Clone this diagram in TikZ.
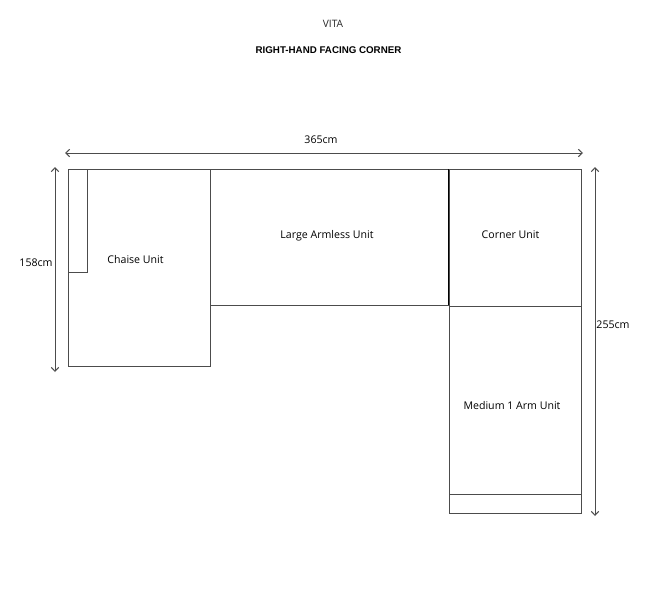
\documentclass[tikz,border=0pt]{standalone}
\usepackage{fontspec}
\setmainfont{Open Sans}
\newfontfamily\headfont{Liberation Sans}
\usetikzlibrary{arrows.meta}
\definecolor{planline}{gray}{0.3}
\tikzset{
unit/.style={draw=planline, line width=1pt, inner sep=0pt, outer sep=0pt},
unitlabel/.style={inner sep=0pt, text=black, font=\fontsize{10.6}{12}\selectfont},
dimline/.style={draw=planline, line width=1pt, {Straight Barb[length=4pt,width=7.5pt]}-{Straight Barb[length=4pt,width=7.5pt]}}
}
\begin{document}
\begin{tikzpicture}[x=1pt,y=-1pt]
\useasboundingbox (0,0) rectangle (650,600);
\fill[white] (0,0) rectangle (650,600);

\node[inner sep=0pt, text=black!85, font=\fontsize{10.2}{12}\selectfont] (range) at (333,23.5) {VITA};
\node[inner sep=0pt, font=\headfont\bfseries\fontsize{9.75}{11}\selectfont] (facing) at (328.5,50.5) {RIGHT-HAND FACING CORNER};

\node[unit, minimum width=142pt, minimum height=197pt] (chaise) at (139,267.5) {};
\node[unit, minimum width=19pt, minimum height=103pt] (chaiseback) at (77.5,220.5) {};
\node[unit, minimum width=238pt, minimum height=136pt] (large) at (329,237) {};
\node[unit, minimum width=132pt, minimum height=137pt] (corner) at (515,237.5) {};
\node[unit, minimum width=132pt, minimum height=207pt] (medium) at (515,409.5) {};
\node[unit, minimum width=132pt, minimum height=19pt] (mediumarm) at (515,503.5) {};
\draw[black, line width=0.9pt] (large.north east) -- (large.south east);

\node[unitlabel] (chaisetext) at (135.5,259.5) {Chaise Unit};
\node[unitlabel] (largetext) at (327,235.5) {Large Armless Unit};
\node[unitlabel] (cornertext) at (510.5,234.5) {Corner Unit};
\node[unitlabel] (mediumtext) at (512,405.5) {Medium 1 Arm Unit};

\coordinate (widthleft) at (65,153);
\coordinate (widthright) at (583,153);
\coordinate (depthtop) at (55,167);
\coordinate (depthbottom) at (55,372);
\coordinate (heighttop) at (595,167);
\coordinate (heightbottom) at (595,516);
\draw[dimline] (widthleft) -- (widthright);
\draw[dimline] (depthtop) -- (depthbottom);
\draw[dimline] (heighttop) -- (heightbottom);

\node[unitlabel] (widthtext) at (321,139.5) {365cm};
\node[unitlabel] (depthtext) at (36,262.5) {158cm};
\node[unitlabel] (heighttext) at (613,324.5) {255cm};
\end{tikzpicture}
\end{document}
